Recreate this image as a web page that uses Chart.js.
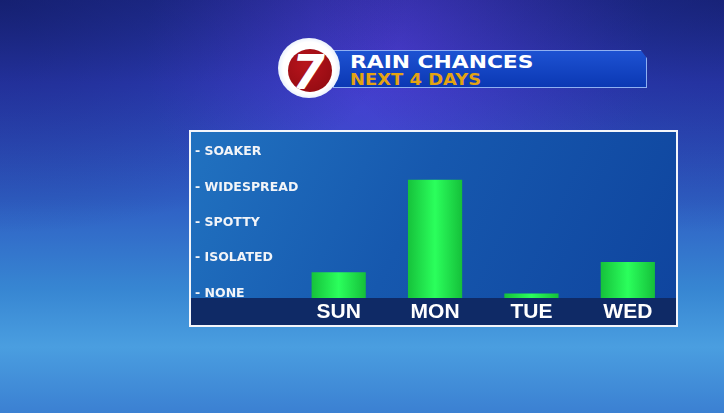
<!DOCTYPE html>
<html>

<head>
  <title>Rain Chances</title>
  <script src="https://cdn.jsdelivr.net/npm/chart.js"></script>
  <style>
    html, body { margin: 0; padding: 0; }
    body {
      width: 724px; height: 413px; overflow: hidden; position: relative;
      background:
        radial-gradient(ellipse at 0% 0%, rgba(10, 20, 80, 0.55), transparent 40%),
        radial-gradient(ellipse at 100% 0%, rgba(10, 20, 80, 0.45), transparent 40%),
        radial-gradient(ellipse at 55% 12%, rgba(95, 60, 225, 0.55), transparent 45%),
        linear-gradient(to bottom, #232f9a 0%, #3040c2 20%, #2f5ec4 48%, #3786d2 70%, #4a9ee0 84%, #3b80d2 100%);
      font-family: "DejaVu Sans", sans-serif;
    }
    #banner {
      position: absolute; left: 333px; top: 50px; width: 312px; height: 36px;
      background: linear-gradient(to bottom, #1d52d2, #0b38b4);
      border: 1px solid #8fb0f2;
      clip-path: polygon(0 0, 98% 0, 100% 22%, 100% 100%, 0 100%);
    }
    .title {
      position: absolute; left: 350px; font-weight: bold; white-space: nowrap;
      transform-origin: left top;
    }
    #t1 { top: 54px; font-size: 17.5px; line-height: 17.5px; color: #ffffff; transform: scaleX(1.245); }
    #t2 { top: 71.5px; font-size: 16px; line-height: 16px; color: #e4a312; transform: scaleX(1.12); }
    #ring {
      position: absolute; left: 278px; top: 38px; width: 62px; height: 60px; border-radius: 50%;
      background: radial-gradient(circle at 50% 50%, #ffffff 60%, #d8e6fb 80%, #9dbcf0 100%);
    }
    #red {
      position: absolute; left: 287.5px; top: 49px; width: 44px; height: 43px; border-radius: 50%;
      background: radial-gradient(circle at 40% 35%, #b8141c, #8c0a10);
      overflow: hidden;
    }
    #seven {
      position: absolute; left: 4px; top: -1.5px; font: italic bold 48px "DejaVu Sans", sans-serif;
      color: #ffffff; line-height: 48px;
    }
    #panel {
      position: absolute; left: 189px; top: 130px; width: 485px; height: 193px;
      border: 2px solid #f4f6fb;
      background: linear-gradient(115deg, #2172c0 0%, #1658ae 45%, #0f449e 100%);
    }
    #chart { position: absolute; left: 0; top: 0; }
  </style>
</head>

<body>
  <div id="banner"></div>
  <div id="ring"></div>
  <div id="red"><div id="seven">7</div></div>
  <div class="title" id="t1">RAIN CHANCES</div>
  <div class="title" id="t2">NEXT 4 DAYS</div>
  <div id="panel"><canvas id="chart" width="485" height="193"></canvas></div>
  <script>
    // rain chance levels (0 = none ... 4 = soaker)
    var days = ['SUN', 'MON', 'TUE', 'WED'];
    var chance = [0.6, 3.22, 0.0, 0.89];
    var levelValues = [0, 1, 2, 3, 4];
    var levelLabels = ['- NONE', '- ISOLATED', '- SPOTTY', '- WIDESPREAD', '- SOAKER'];
    var yMin = -0.13;
    var yMax = 4.57;

    var barPct = 0.5625;

    var stripPlugin = {
      id: 'strip',
      // let the level labels run past the axis box (they overlap the plot in the original)
      afterLayout: function (chart) {
        chart.scales.y.right = chart.scales.y.left + 140;
      },
      beforeDraw: function (chart) {
        var c = chart.ctx;
        c.save();
        c.fillStyle = '#0f2a66';
        c.fillRect(0, chart.chartArea.bottom, chart.width, chart.height - chart.chartArea.bottom);
        c.restore();
      }
    };

    function barFill(ctx) {
      var chart = ctx.chart;
      var x = chart.scales.x;
      if (!chart.chartArea || !x) return '#1fd845';
      var w = x.width / days.length * barPct;
      var cx = x.getPixelForValue(ctx.dataIndex);
      var g = chart.ctx.createLinearGradient(cx - w / 2, 0, cx + w / 2, 0);
      g.addColorStop(0, '#16c23b');
      g.addColorStop(0.5, '#2bff5c');
      g.addColorStop(1, '#15c03a');
      return g;
    }

    var ctx = document.getElementById('chart').getContext('2d');
    var myChart = new Chart(ctx, {
      type: 'bar',
      data: {
        labels: days,
        datasets: [{
          label: 'Rain chance',
          data: chance,
          base: yMin,
          backgroundColor: barFill,
          borderWidth: 0,
          categoryPercentage: 1,
          barPercentage: barPct
        }]
      },
      options: {
        responsive: false,
        animation: false,
        layout: { padding: { left: 4, right: 0, top: 0, bottom: 0 } },
        plugins: { legend: { display: false }, tooltip: { enabled: false } },
        scales: {
          x: {
            grid: { display: false, drawTicks: false },
            border: { display: false },
            ticks: {
              color: '#ffffff',
              padding: 2,
              font: { family: 'Liberation Sans', weight: 'bold', size: 21 }
            },
            afterFit: function (scale) {
              scale.height = 27;
              scale.paddingLeft = 0;
              scale.paddingRight = 0;
            }
          },
          y: {
            min: yMin,
            max: yMax,
            grid: { display: false, drawTicks: false },
            border: { display: false },
            afterBuildTicks: function (scale) {
              scale.ticks = levelValues.map(function (v) { return { value: v }; });
            },
            afterFit: function (scale) {
              scale.width = 95.5;
              scale.paddingTop = 0;
              scale.paddingBottom = 0;
            },
            ticks: {
              crossAlign: 'far',
              color: '#f2f4f8',
              font: { family: 'DejaVu Sans', weight: 'bold', size: 12.5 },
              callback: function (value) {
                var i = levelValues.indexOf(value);
                return i >= 0 ? levelLabels[i] : '';
              }
            }
          }
        }
      },
      plugins: [stripPlugin]
    });
  </script>
</body>

</html>
